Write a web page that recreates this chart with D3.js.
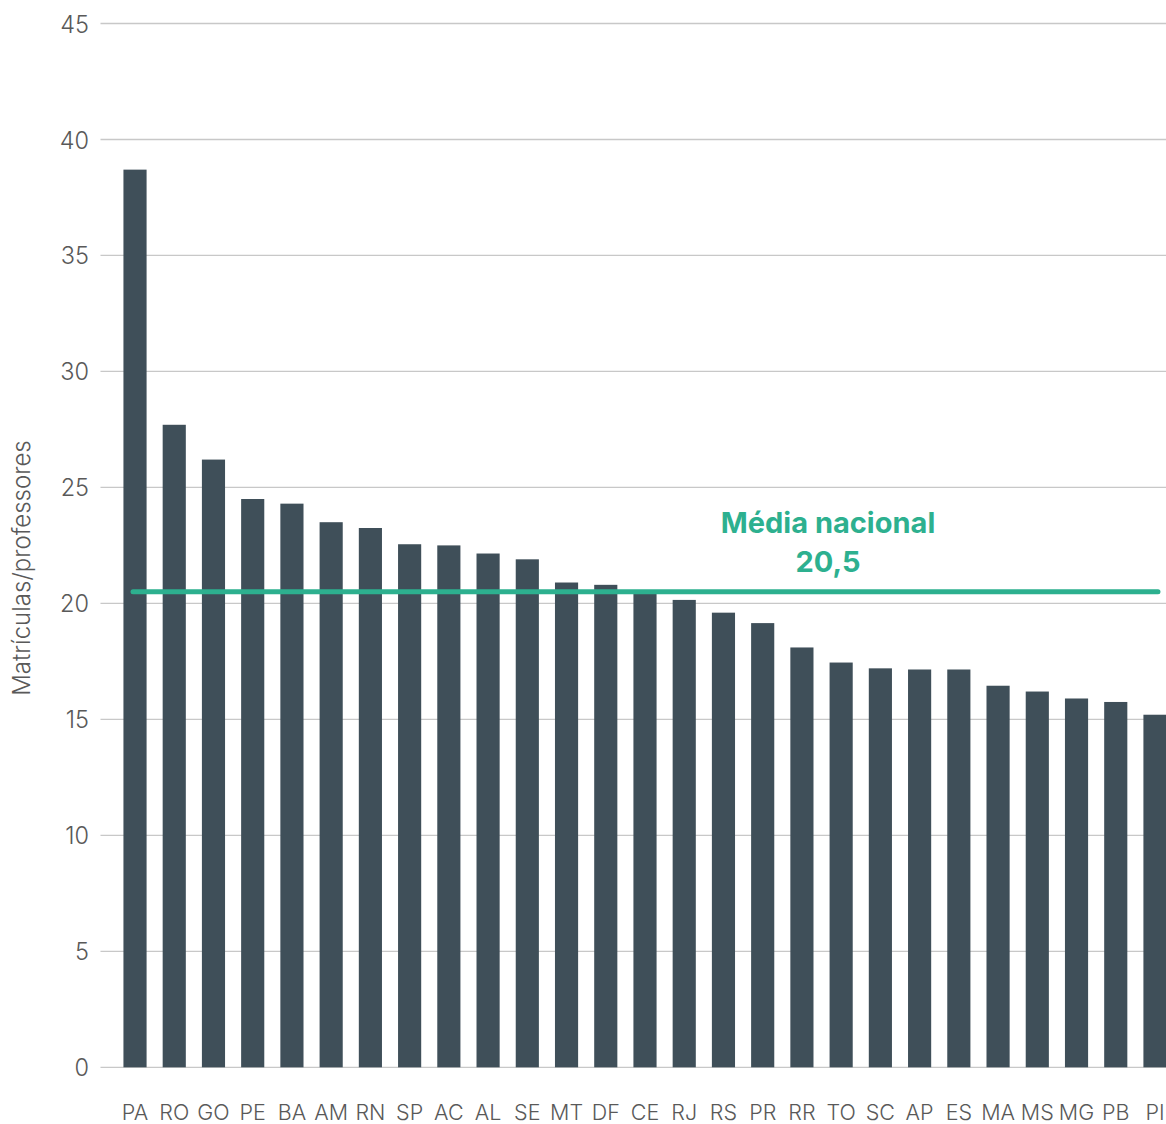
<!DOCTYPE html>
<html><head><meta charset="utf-8">
<script src="https://cdn.jsdelivr.net/npm/d3@7"></script>
<style>body{margin:0;background:#fff;} text{font-family:Inter,sans-serif;}</style>
</head><body>
<svg id="c" width="1166" height="1124"></svg>
<script>
const states = ["PA","RO","GO","PE","BA","AM","RN","SP","AC","AL","SE","MT","DF","CE","RJ","RS","PR","RR","TO","SC","AP","ES","MA","MS","MG","PB","PI"];
const ratios = [38.7,27.7,26.2,24.5,24.3,23.5,23.25,22.55,22.5,22.15,21.9,20.9,20.8,20.5,20.15,19.6,19.15,18.1,17.45,17.2,17.15,17.15,16.45,16.2,15.9,15.75,15.2];
const yTicks = [0,5,10,15,20,25,30,35,40,45];
const nationalAvg = 20.5;
const avgLabel = ["Média nacional","20,5"];
const yTitle = "Matrículas/professores";

const svg = d3.select("#c");
const x = d3.scaleBand().domain(states).range([115.4,1174.6]).paddingInner(0.41).paddingOuter(0.205);
const y = d3.scaleLinear().domain([0,45]).range([1067.3,23.5]);

// gridlines
svg.append("g").selectAll("line").data(yTicks).join("line")
  .attr("x1",100.5).attr("x2",1166).attr("y1",d=>y(d)).attr("y2",d=>y(d))
  .attr("stroke","#c8c8c8").attr("stroke-width",1.3);

// y axis labels
const yAxis = svg.append("g").attr("transform","translate(89,1)")
  .call(d3.axisLeft(y).tickValues(yTicks).tickSize(0).tickPadding(0));
yAxis.select(".domain").remove();
yAxis.selectAll("text").attr("font-size",23.5).attr("font-weight",300).attr("fill","#595959").attr("font-family","Inter");

// bars
svg.append("g").selectAll("rect").data(states).join("rect")
  .attr("x",d=>x(d)).attr("width",x.bandwidth())
  .attr("y",(d,i)=>y(ratios[i])).attr("height",(d,i)=>y(0)-y(ratios[i]))
  .attr("fill","#3f4f59");

// x axis labels
const xAxis = svg.append("g").attr("transform","translate(0,1105)")
  .call(d3.axisBottom(x).tickSize(0).tickPadding(0));
xAxis.select(".domain").remove();
xAxis.selectAll("text").attr("font-size",21.5).attr("font-weight",300).attr("fill","#595959").attr("font-family","Inter");

// average line
svg.append("line")
  .attr("x1",x(states[0])+x.bandwidth()/2-2).attr("x2",x(states[states.length-1])+x.bandwidth()/2+3)
  .attr("y1",y(nationalAvg)).attr("y2",y(nationalAvg))
  .attr("stroke","#2db08f").attr("stroke-width",5).attr("stroke-linecap","round");

svg.append("g").selectAll("text").data(avgLabel).join("text")
  .attr("x",828).attr("y",(d,i)=>533+i*39)
  .attr("text-anchor","middle").attr("font-size",29).attr("font-weight",700)
  .attr("fill","#2db08f").text(d=>d);

// y title
svg.append("text").attr("transform","translate(30,568) rotate(-90)")
  .attr("text-anchor","middle").attr("font-size",24).attr("font-weight",300).attr("fill","#595959").text(yTitle);
</script>
</body></html>
